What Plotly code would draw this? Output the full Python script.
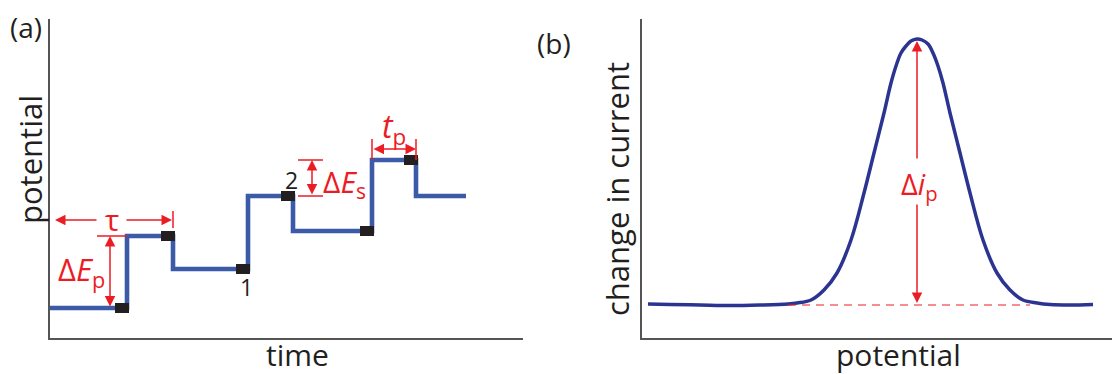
import plotly.graph_objects as go

# ---------------- data ----------------
# Panel (a): staircase-with-pulses potential waveform (time, potential)
step_times = [0, 77, 123, 198, 243, 322, 366, 416]
step_levels = [30, 102, 69, 142, 107, 178, 142, 142]
# current-sampling points (end of each level)
sample_times = [77, 123, 198, 243, 322, 366]
sample_levels = [30, 102, 69, 142, 107, 178]
sample_labels = {"1": (198, 69), "2": (243, 142)}

# Panel (b): differential pulse voltammogram
potential = [6, 28, 58, 88, 118, 146, 155, 169, 182, 195, 209, 222, 232, 242,
             249, 255, 259, 264, 269, 275, 280, 286, 291, 296, 301, 308, 318,
             328, 341, 355, 368, 381, 395, 408, 428, 451]
delta_current = [34, 33.5, 33, 32.5, 33, 34, 35, 38, 48, 65, 98, 145, 185, 225,
                 255, 275, 285, 292, 297, 299, 298, 294, 285, 272, 255, 225, 185,
                 145, 98, 65, 48, 38, 35, 33.5, 33, 33.5]
peak_potential = 275
baseline_current = 33
peak_current = 299

# ---------------- style ----------------
W, H = 1112, 374
BLUE = "#3b5ba9"
NAVY = "#2b3490"
RED = "#ec1c24"
INK = "#231f20"
AXIS = "#555555"
FONT = "Open Sans"


def px(x):
    return x / W


def py(y):
    return 1 - y / H


fig = go.Figure()

fig.add_trace(go.Scatter(
    x=step_times, y=step_levels, mode="lines",
    line=dict(color=BLUE, width=4.6, shape="hv"),
    xaxis="x", yaxis="y", hoverinfo="skip", showlegend=False))

fig.add_trace(go.Scatter(
    x=potential, y=delta_current, mode="lines",
    line=dict(color=NAVY, width=3.5, shape="spline", smoothing=1.0),
    xaxis="x2", yaxis="y2", hoverinfo="skip", showlegend=False))

# sampling squares
for t, e in zip(sample_times, sample_levels):
    fig.add_shape(type="rect", xref="x", yref="y",
                  xsizemode="pixel", ysizemode="pixel",
                  xanchor=t, yanchor=e, x0=-12, x1=2, y0=-5, y1=5,
                  fillcolor=INK, line_width=0)

red_line = dict(color=RED, width=1.5)


def arrow(x, y, ax, ay, xr="x", yr="y", both=False):
    fig.add_annotation(
        x=x, y=y, ax=ax, ay=ay, xref=xr, yref=yr, axref=xr, ayref=yr,
        text="", showarrow=True, arrowhead=2, arrowsize=1.4, arrowwidth=1.5,
        arrowcolor=RED, standoff=0, startstandoff=0,
        arrowside="end+start" if both else "end", startarrowhead=2,
        startarrowsize=1.4)


def label(x, y, text, size, color=RED, xr="x", yr="y", angle=0):
    fig.add_annotation(x=x, y=y, xref=xr, yref=yr, text=text, showarrow=False,
                       xanchor="center", yanchor="middle", textangle=angle,
                       font=dict(family=FONT, size=size, color=color))


# --- tau ---
t0 = step_times[0]
tau_end = step_times[2]
arrow(t0 + 5, 118, 48, 118)
arrow(tau_end - 1, 118, 75, 118)
fig.add_shape(type="line", xref="x", yref="y", x0=tau_end, x1=tau_end, y0=110, y1=127, line=red_line)
label(62, 119, "τ", 30)

# --- Delta E_p ---
fig.add_shape(type="line", xref="x", yref="y", x0=47, x1=step_times[1], y0=step_levels[1], y1=step_levels[1], line=red_line)
arrow(60, step_levels[1], 60, step_levels[0], both=True)
label(31, 67, "Δ<i>E</i><sub>p</sub>", 31)

# --- Delta E_s ---
for lev in (step_levels[3], step_levels[5]):
    fig.add_shape(type="line", xref="x", yref="y", x0=248, x1=273, y0=lev, y1=lev, line=red_line)
arrow(262, step_levels[5], 262, step_levels[3], both=True)
label(294, 155, "Δ<i>E</i><sub>s</sub>", 30)

# --- t_p ---
for t in (step_times[5], step_times[6]):
    fig.add_shape(type="line", xref="x", yref="y", x0=t, x1=t, y0=step_levels[5], y1=199, line=red_line)
arrow(step_times[6], 189, step_times[5], 189, both=True)
label(344, 210, "<i>t</i><sub>p</sub>", 32)

# sample labels
label(sample_labels["1"][0] - 2, sample_labels["1"][1] - 18, "1", 23, INK)
label(sample_labels["2"][0] - 2, sample_labels["2"][1] + 16, "2", 23, INK)

# --- panel b annotations ---
fig.add_shape(type="line", xref="x2", yref="y2", x0=146, x1=388,
              y0=baseline_current, y1=baseline_current,
              line=dict(color=RED, width=1.2, dash="8px,6px"))
arrow(peak_potential, peak_current - 2, peak_potential, 178, xr="x2", yr="y2")
arrow(peak_potential, baseline_current + 2, peak_potential, 135, xr="x2", yr="y2")
label(peak_potential + 2, 153, "Δ<i>i</i><sub>p</sub>", 29, xr="x2", yr="y2")

# --- panel labels / axis titles ---
label(px(26), py(27), "(a)", 28, INK, "paper", "paper")
label(px(554), py(43), "(b)", 28, INK, "paper", "paper")
label(px(30), py(160), "potential", 31, INK, "paper", "paper", -90)
label(px(297), py(354), "time", 30, INK, "paper", "paper")
label(px(617), py(189), "change in current", 31, INK, "paper", "paper", -90)
label(px(898), py(354), "potential", 30, INK, "paper", "paper")

ax_common = dict(showline=True, linecolor=AXIS, linewidth=1.5, showgrid=False,
                 zeroline=False, showticklabels=False, ticks="", fixedrange=True)

fig.update_layout(
    width=W, height=H, margin=dict(l=0, r=0, t=0, b=0),
    paper_bgcolor="white", plot_bgcolor="white", showlegend=False,
    font=dict(family=FONT, color=INK),
    xaxis=dict(domain=[px(50), px(523)], range=[0, 473], anchor="y", **ax_common),
    yaxis=dict(domain=[py(338), py(19)], range=[0, 319], anchor="x", **ax_common),
    xaxis2=dict(domain=[px(642), 1.0], range=[0, 470], anchor="y2", **ax_common),
    yaxis2=dict(domain=[py(338), py(19)], range=[0, 319], anchor="x2", **ax_common),
)

fig.write_html("out.html", config={"displayModeBar": False},
               post_script="document.body.style.margin='0';document.body.style.overflow='hidden';")
